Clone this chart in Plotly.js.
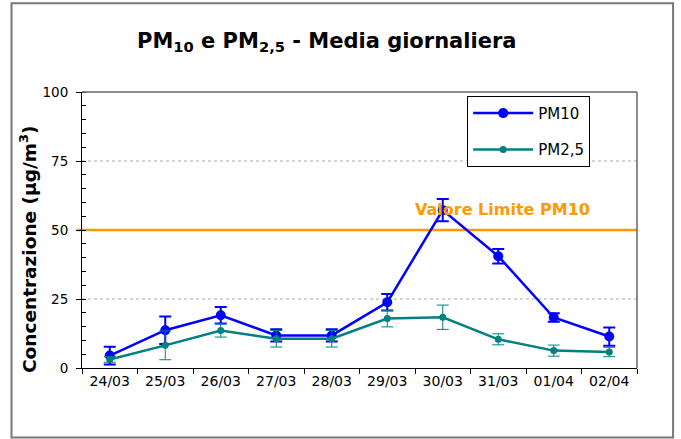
<!DOCTYPE html>
<html>
<head>
<meta charset="utf-8">
<script src="https://cdn.plot.ly/plotly-3.0.1.min.js"></script>
<style>
html,body{margin:0;padding:0;background:#fff;}
#chart{width:681px;height:439px;}
</style>
</head>
<body>
<div id="chart"></div>
<script>
const categories = ["24/03","25/03","26/03","27/03","28/03","29/03","30/03","31/03","01/04","02/04"];
const pm10 = [4.5, 13.7, 19.1, 11.8, 11.8, 23.8, 57.2, 40.5, 18.3, 11.4];
const pm10Err = [3.2, 5.0, 3.0, 2.2, 2.2, 3.0, 4.0, 2.6, 1.5, 3.3];
const pm25 = [3.1, 8.2, 13.6, 10.6, 10.6, 17.9, 18.4, 10.4, 6.3, 5.8];
const pm25Err = [1.0, 5.2, 2.4, 3.0, 3.0, 3.0, 4.4, 2.0, 2.0, 1.7];
const limitValue = 50;
const yTicks = [0, 25, 50, 75, 100];
const gridValues = [25, 75];

const font = "DejaVu Sans, Verdana, sans-serif";

const traces = [
  {
    x: categories, y: pm10, name: "PM10", type: "scatter", mode: "lines+markers",
    line: {color: "#0000FF", width: 2.5},
    marker: {color: "#0000FF", size: 10, symbol: "circle"},
    error_y: {type: "data", array: pm10Err, visible: true, color: "#0000FF", thickness: 2, width: 6},
    legendgroup: "a"
  },
  {
    x: categories, y: pm25, name: "PM2,5", type: "scatter", mode: "lines+markers",
    line: {color: "#008080", width: 2.5},
    marker: {color: "#008080", size: 7, symbol: "circle"},
    error_y: {type: "data", array: pm25Err, visible: true, color: "#008080", thickness: 1, width: 6},
    legendgroup: "b"
  }
];

const shapes = gridValues.map(v => ({
  type: "line", xref: "paper", yref: "y", x0: 0, x1: 1, y0: v, y1: v,
  line: {color: "#a8a8a8", width: 1, dash: "dot"}, layer: "below"
}));
shapes.push(
  {type: "line", xref: "paper", yref: "y", x0: -0.01, x1: 1, y0: limitValue, y1: limitValue, line: {color: "#FF9900", width: 2.5}, layer: "below"},
  {type: "line", xref: "paper", yref: "paper", x0: 0, x1: 1, y0: 1, y1: 1, line: {color: "#666", width: 1.5}},
  {type: "line", xref: "paper", yref: "paper", x0: 1, x1: 1, y0: 0, y1: 1, line: {color: "#666", width: 1.5}},
  {type: "rect", xref: "paper", yref: "paper", x0: -0.127, x1: 1.065, y0: -0.252, y1: 1.322, line: {color: "#777", width: 2}, layer: "below"}
);

const layout = {
  width: 681, height: 439,
  margin: {l: 82, r: 44, t: 92, b: 71},
  paper_bgcolor: "#fff", plot_bgcolor: "#fff",
  font: {family: font, color: "#000", size: 12},
  showlegend: true,
  legend: {
    x: 0.694, y: 0.986, xanchor: "left", yanchor: "top",
    bordercolor: "#000", borderwidth: 1, bgcolor: "#fff",
    font: {family: font, size: 15},
    tracegroupgap: 14, itemwidth: 60, traceorder: "grouped"
  },
  xaxis: {
    type: "category", showline: true, linecolor: "#000", linewidth: 1,
    ticks: "outside", ticklen: 5, tickcolor: "#000", tickson: "boundaries",
    tickfont: {family: font, size: 14}, showgrid: false, zeroline: false,
    range: [-0.5, 9.5], fixedrange: true
  },
  yaxis: {
    range: [0, 100], tickvals: yTicks, ticktext: yTicks.map(String),
    showline: true, linecolor: "#000", linewidth: 1,
    ticks: "outside", ticklen: 5, tickcolor: "#000",
    tickfont: {family: font, size: 13.5}, ticklabelstandoff: 5,
    showgrid: false, zeroline: false,
    minor: {dtick: 5, ticks: "inside", ticklen: 4, tickcolor: "#000", showgrid: false}
  },
  shapes: shapes,
  annotations: [
    {text: "<b>PM<sub>10</sub> e PM<sub>2,5</sub> - Media giornaliera</b>", xref: "paper", yref: "paper",
     x: (326 - 82) / 555, y: 1.18, xanchor: "center", yanchor: "middle", showarrow: false,
     font: {family: font, size: 21, color: "#000"}},
    {text: "<b>Concentrazione (µg/m<sup>3</sup>)</b>", xref: "paper", yref: "paper",
     x: (28 - 82) / 555, y: (368 - 250) / 276, xanchor: "center", yanchor: "middle", textangle: -90, showarrow: false,
     font: {family: font, size: 18.5, color: "#000"}},
    {text: "<b>Valore Limite PM10</b>", xref: "paper", yref: "y",
     x: (502 - 82) / 555, y: 57.3, xanchor: "center", yanchor: "middle", showarrow: false,
     font: {family: font, size: 16, color: "#FF9900"}}
  ]
};

Plotly.newPlot("chart", traces, layout, {staticPlot: true, displayModeBar: false});
</script>
</body>
</html>
